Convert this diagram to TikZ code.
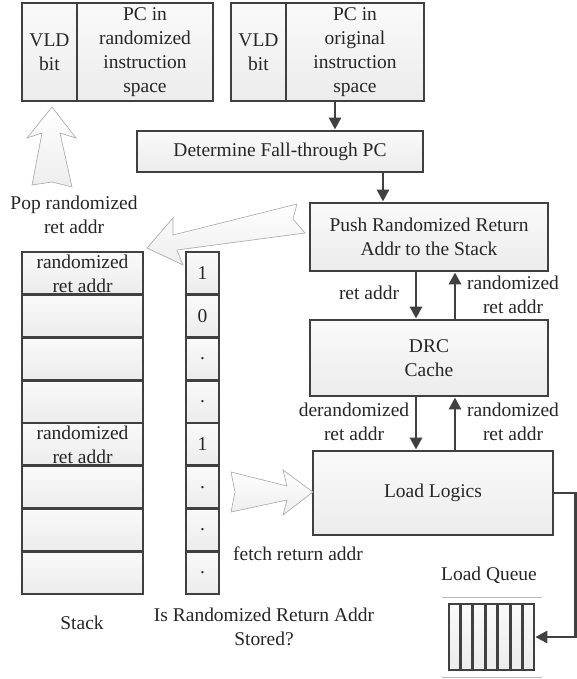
\documentclass[tikz,border=0pt]{standalone}
\usepackage{fontspec}
\setmainfont{Liberation Serif}
\usetikzlibrary{arrows.meta,calc}
\definecolor{bordergray}{HTML}{404040}
\begin{document}
\begin{tikzpicture}[x=0.75pt,y=-0.75pt,
  every node/.style={font=\fontsize{14.6}{18}\selectfont},
  box/.style={draw=bordergray, line width=2.2pt, top color=gray!4, bottom color=gray!15, inner sep=0pt, align=center, text=black!85},
  sz/.style 2 args={minimum width=#1pt, minimum height=#2pt},
  conn/.style={draw=bordergray, line width=2.2pt, -{Triangle[length=9pt,width=9pt]}},
  hollow/.style={draw=gray!65, line width=0.5pt, top color=white, bottom color=gray!14},
  lbl/.style={align=center, inner sep=0pt, text=black!85}]
\path[use as bounding box] (0,0) rectangle (577,679);

% top registers
\node[box, sz={41.25}{73.5}] (vld1) at (49.5,52) {VLD\\bit};
\node[box, sz={102}{73.5}] (pc1) at (145,52) {PC in\\randomized\\instruction\\space};
\node[box, sz={41.25}{73.5}] (vld2) at (258.5,52) {VLD\\bit};
\node[box, sz={103.5}{73.5}] (pc2) at (355,52) {PC in\\original\\instruction\\space};

% pipeline boxes
\node[box, sz={214.5}{30.75}] (det) at (280,151.5) {Determine Fall-through PC};
\node[box, sz={178.5}{51}] (push) at (429,237) {Push Randomized Return\\Addr to the Stack};
\node[box, sz={178.5}{57}] (drc) at (429,358) {DRC\\Cache};
\node[box, sz={180}{63}] (load) at (433,493) {Load Logics};

% stack and bit column
\foreach \i/\txt/\bit in {0/{randomized\\ret addr}/1, 1/{}/0, 2/{}/., 3/{}/., 4/{randomized\\ret addr}/1, 5/{}/., 6/{}/., 7/{}/.}{
  \pgfmathsetmacro{\yc}{252+42.75*(\i+0.5)}
  \node[box, sz={90.75}{32.06}] (s\i) at (82.5,\yc) {\txt};
  \node[box, sz={24.75}{32.06}] (b\i) at (202.5,\yc) {\bit};
}

% load queue
\node[box, line width=2pt, sz={63.75}{49.5}] (queue) at (491.5,637) {};
\foreach \k in {1,...,6}{
  \draw[bordergray, line width=2pt] ($(queue.north west)!\k/7!(queue.north east)$) -- ($(queue.south west)!\k/7!(queue.south east)$);
}
\draw[gray!55, line width=0.6pt] (442,597) -- (542,597);
\draw[gray!55, line width=0.6pt] (442,677) -- (542,677);

% connectors
\coordinate (xa) at (335,0);
\coordinate (xb) at (383,0);
\coordinate (xd) at (416,0);
\coordinate (xu) at (455,0);
\coordinate (qc) at (575.5,637);
\draw[conn] (pc2.south -| xa) -- (det.north -| xa);
\draw[conn] (det.south -| xb) -- (push.north -| xb);
\draw[conn] (push.south -| xd) -- (drc.north -| xd);
\draw[conn] (drc.north -| xu) -- (push.south -| xu);
\draw[conn] (drc.south -| xd) -- (load.north -| xd);
\draw[conn] (load.north -| xu) -- (drc.south -| xu);
\draw[conn] (load.east) -| (qc) -- (queue.east |- qc);

% hollow arrows
\shade[hollow] (52,107) -- (76,138) -- (60,133) -- (72,187) -- (52,182) -- (32,185) -- (42,133) -- (27,138) -- cycle;
\shade[hollow] (147,248) -- (173,218) -- (173,235) -- (297,204) -- (293,219) -- (305,233) -- (177,250) -- (183,265) -- cycle;
\shade[hollow] (231,472) -- (287,486) -- (283,470) -- (313,492) -- (283,515) -- (287,500) -- (231,512) -- (235,492) -- cycle;

% labels
\node[lbl] (popl) at (74,215) {Pop randomized\\ret addr};
\node[lbl] (l1) at (369,293) {ret addr};
\node[lbl] (l2) at (513,295) {randomized\\ret addr};
\node[lbl] (l3) at (354,422) {derandomized\\ret addr};
\node[lbl] (l4) at (513,422) {randomized\\ret addr};
\node[lbl] (l5) at (298,554) {fetch return addr};
\node[lbl] (l6) at (489,575) {Load Queue};
\node[lbl] (l7) at (82,623) {Stack};
\node[lbl] (l8) at (264,627) {Is Randomized Return Addr\\Stored?};
\end{tikzpicture}
\end{document}
